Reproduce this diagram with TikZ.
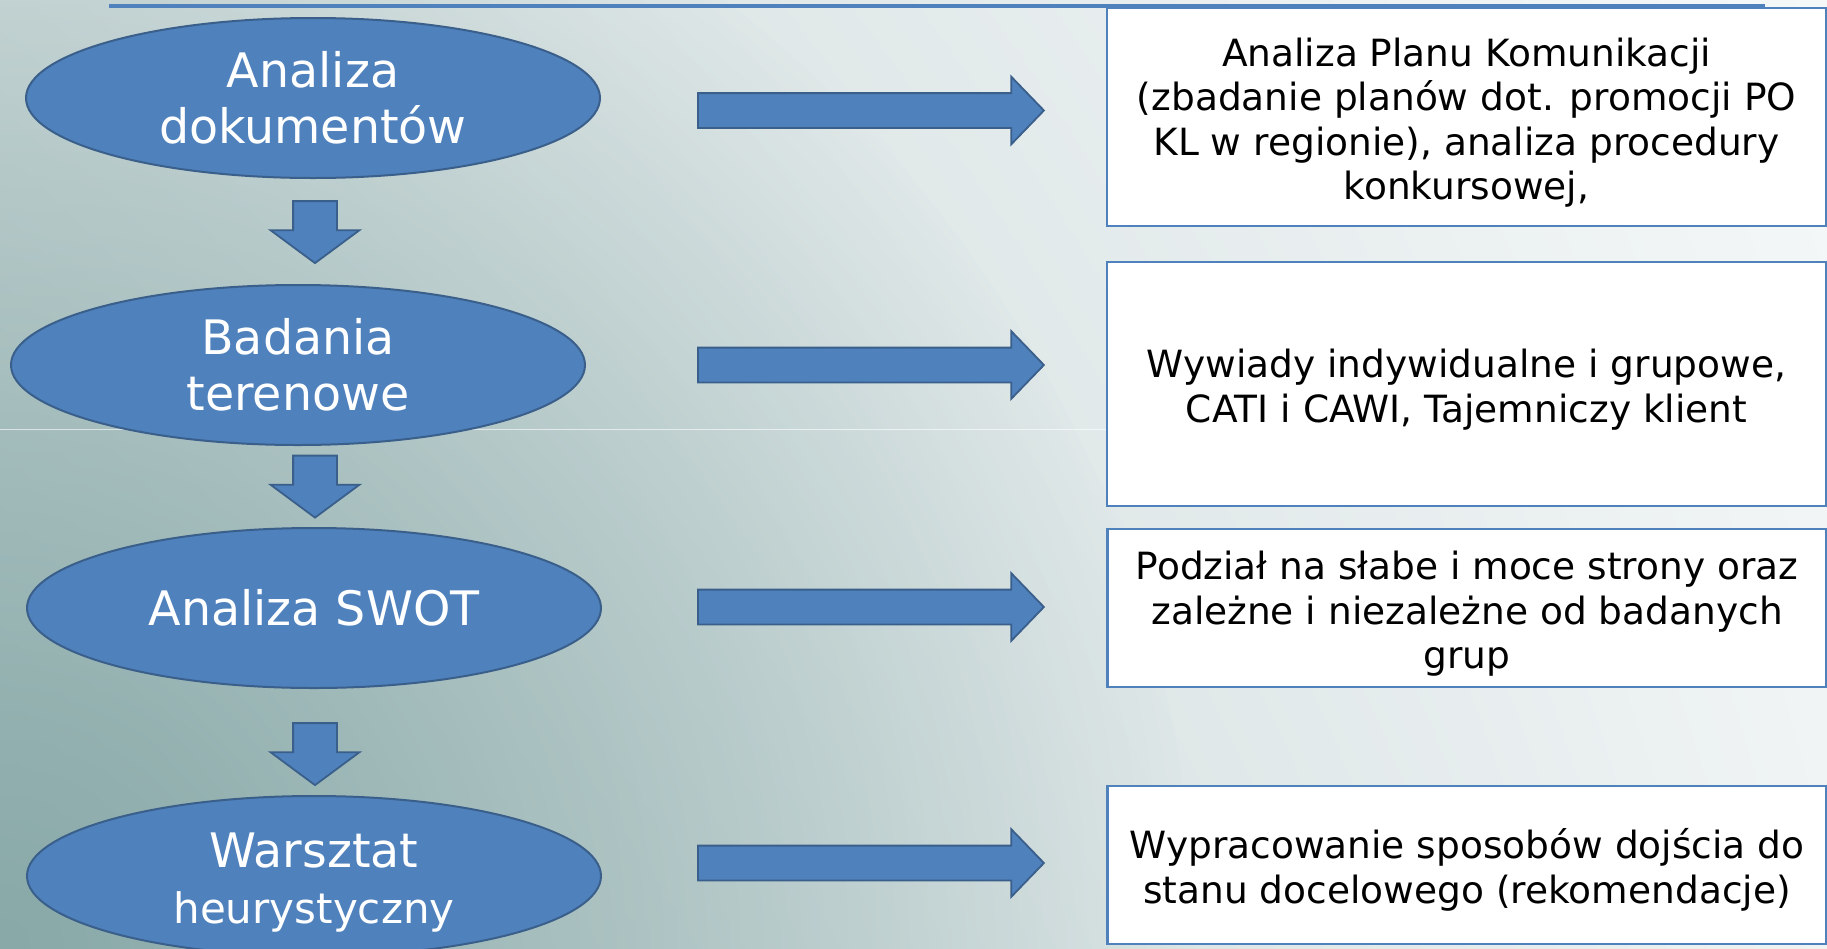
\documentclass[tikz,border=0pt]{standalone}
\usepackage{fontspec}
\setmainfont{DejaVu Sans}
\usetikzlibrary{positioning, shapes.geometric, shapes.arrows, shadings, fadings}

\definecolor{blueA}{HTML}{4F81BD}
\definecolor{blueline}{HTML}{3A5F8B}
\definecolor{bgTL}{HTML}{D2DDDD}
\definecolor{bgTR}{HTML}{F5F8F9}
\definecolor{bgBL}{HTML}{BCCDCD}
\definecolor{bgBR}{HTML}{EFF3F4}
\definecolor{bgdark}{HTML}{88A9A8}
\tikzfading[name=cornerfade, inner color=transparent!0, outer color=transparent!100]
\newcommand{\descstrut}{\rule{0pt}{40pt}}

\begin{document}
\begin{tikzpicture}[
		x=1pt, y=-1pt,
		stage/.style={ellipse, draw=blueline, line width=2pt, fill=blueA, text=white, minimum width=574pt, minimum height=160pt, inner sep=0pt, align=center, font=\fontsize{47.5}{56}\selectfont},
		desc/.style={rectangle, draw=blueA, line width=2.2pt, fill=white, minimum width=719pt, inner sep=0pt, align=center, font=\fontsize{37.5}{44.5}\selectfont},
		downarr/.style={single arrow, draw=blueline, line width=1.8pt, fill=blueA, rotate=-90, minimum height=62pt, inner xsep=0pt, inner ysep=21pt, outer sep=0pt, single arrow head extend=22.5pt, single arrow tip angle=107},
		rightarr/.style={single arrow, draw=blueline, line width=1.8pt, fill=blueA, minimum height=346pt, inner xsep=0pt, inner ysep=16.5pt, outer sep=0pt, single arrow head extend=16.5pt, single arrow tip angle=92}
	]

	% background
	\useasboundingbox (0,0) rectangle (1827,948);
	\shade[upper left=bgTL, upper right=bgTR, lower left=bgBL, lower right=bgBR] (0,0) rectangle (1827,948);
	\begin{scope}
		\clip (0,0) rectangle (1827,948);
		\fill[bgdark, path fading=cornerfade] (0,948) circle (1200);
	\end{scope}
	\draw[white, opacity=0.6, line width=1pt] (0,429) -- (1107,429);
	\draw[blueA, line width=4pt] (109,5.5) -- (1765,5.5);

	% stages
	\node[stage] (ana) at (313,98) {Analiza\\dokumentów};
	\node[stage] (bad) at (298,365) {Badania\\terenowe};
	\node[stage] (swot) at (314,608) {Analiza SWOT};
	\node[stage] (warsztat) at (314,876) {\rule{0pt}{47pt}Warsztat\\{\fontsize{42}{50}\selectfont heurystyczny}};

	% descriptions
	\node[desc, minimum height=218pt] (anaopis) at (1466.5,117) {\descstrut Analiza Planu Komunikacji\\(zbadanie planów dot. promocji PO\\KL w regionie), analiza procedury\\konkursowej,};
	\node[desc, minimum height=244pt] (badopis) at (1466.5,384) {\descstrut Wywiady indywidualne i grupowe,\\CATI i CAWI, Tajemniczy klient};
	\node[desc, minimum height=158pt] (swotopis) at (1467,608) {\descstrut Podział na słabe i moce strony oraz\\zależne i niezależne od badanych\\grup};
	\node[desc, minimum height=158pt] (warsztatopis) at (1467,865) {\descstrut Wypracowanie sposobów dojścia do\\stanu docelowego (rekomendacje)};

	% block arrows
	\foreach \n/\y in {d1/224, d2/478.5, d3/746}
		\node[downarr] (\n) at (315,\y) {};
	\foreach \n/\y in {r1/110.5, r2/365, r3/607, r4/863}
		\node[rightarr] (\n) at (862.5,\y) {};

\end{tikzpicture}
\end{document}
